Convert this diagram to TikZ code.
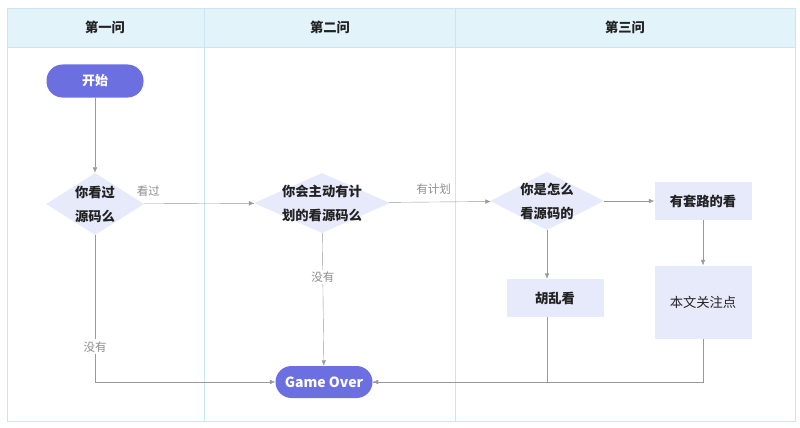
\documentclass[tikz,border=0pt]{standalone}
\usepackage{fontspec}
\setmainfont{Noto Sans CJK SC}
\usetikzlibrary{shapes.geometric,arrows.meta}

\definecolor{lanefill}{HTML}{E3F3FA}
\definecolor{laneline}{HTML}{C9E6F1}
\definecolor{stepfill}{HTML}{E7EAFB}
\definecolor{termfill}{HTML}{6C6FE0}
\definecolor{flowline}{HTML}{9A9A9A}
\definecolor{flowtext}{HTML}{8C8C8C}
\definecolor{inktext}{HTML}{222222}

\tikzset{
  terminal/.style={rectangle, rounded corners=16pt, fill=termfill, text=white,
    font=\bfseries\fontsize{13}{15}\selectfont, minimum width=97pt, minimum height=33pt},
  decision/.style={diamond, fill=stepfill, inner sep=0pt},
  dectext/.style={text=inktext, font=\bfseries\fontsize{13.3}{24}\selectfont, align=center},
  action/.style={rectangle, fill=stepfill, text=inktext, minimum width=97pt,
    font=\bfseries\fontsize{13.3}{15}\selectfont},
  flow/.style={draw=flowline, thin, -{Latex[length=5.5pt,width=4.5pt]}},
  flowlabel/.style={text=flowtext, fill=white, inner sep=2pt, font=\fontsize{11.5}{13}\selectfont},
}

\begin{document}
\begin{tikzpicture}[x=1pt,y=-1pt]
    \useasboundingbox (0,0) rectangle (800,428);
    %swimlanes
    \fill[lanefill] (7,8) rectangle (795,47);
    \draw[laneline] (7,8) rectangle (795,421);
    \draw[laneline] (7,47) -- (795,47);
    \draw[laneline] (204,8) -- (204,421);
    \draw[laneline] (455,8) -- (455,421);
    \node[text=inktext, font=\bfseries\fontsize{13.3}{15}\selectfont] (lane1) at (105,27) {第一问};
    \node[text=inktext, font=\bfseries\fontsize{13.3}{15}\selectfont] (lane2) at (330,27) {第二问};
    \node[text=inktext, font=\bfseries\fontsize{13.3}{15}\selectfont] (lane3) at (625,27) {第三问};

    %steps
    \node[terminal] (start) at (95,81) {开始};
    \node[decision, minimum width=98pt, minimum height=62pt,
      label={[dectext]center:你看过\\源码么}] (d1) at (95,204) {};
    \node[decision, minimum width=136pt, minimum height=60pt,
      label={[dectext]center:你会主动有计\\划的看源码么}] (d2) at (322,203) {};
    \node[decision, minimum width=114pt, minimum height=58pt,
      label={[dectext]center:你是怎么\\看源码的}] (d3) at (547,201) {};
    \node[action, minimum height=38pt] (taolu) at (703,201) {有套路的看};
    \node[action, minimum height=73pt, font=\fontsize{13.3}{15}\selectfont] (focus) at (703,302) {本文关注点};
    \node[action, minimum height=38pt] (huluan) at (555,298) {胡乱看};
    \node[terminal, minimum height=32pt, font=\bfseries\fontsize{14}{16}\selectfont] (over) at (324,382) {Game Over};

    %connectors
    \draw[flow] (start) -- (d1);
    \draw[flow] (d1) -- node[flowlabel, pos=0.04, above=5pt, fill=none] {看过} (d2);
    \draw[flow] (d2) -- node[flowlabel, pos=0.44, above=5pt, fill=none] {有计划} (d3);
    \draw[flow] (d3) -- (taolu);
    \draw[flow] (taolu) -- (focus);
    \draw[flow] (d3.south) -- (d3.south |- huluan.north);
    \draw[flow] (d2) -- node[flowlabel, pos=0.33] {没有} (over);
    \draw[flow] (d1) |- node[flowlabel, pos=0.38] {没有} (over);
    \draw[flowline, thin] (d3.south |- huluan.south) |- (over.east);
    \draw[flow] (focus) |- (over);
\end{tikzpicture}
\end{document}
